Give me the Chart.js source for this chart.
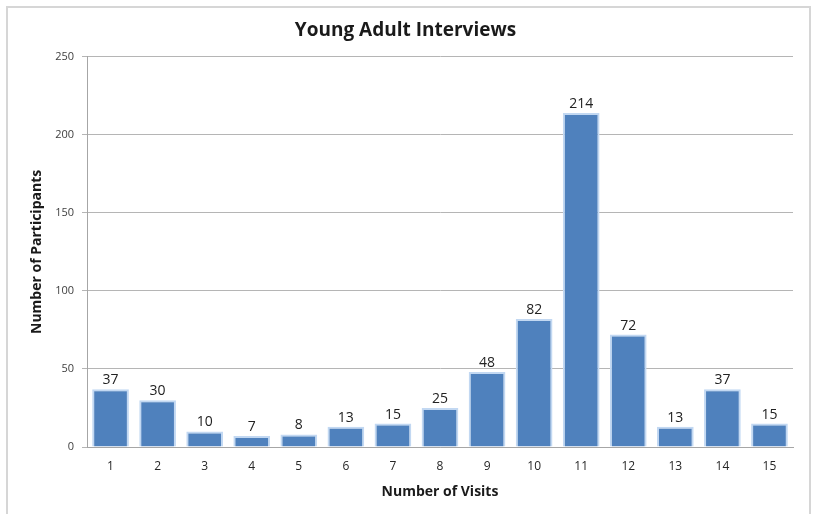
<!DOCTYPE html>
<html>
<head>
<meta charset="utf-8">
<script src="https://cdn.jsdelivr.net/npm/chart.js@4/dist/chart.umd.min.js"></script>
<style>
  html, body { margin: 0; padding: 0; background: #ffffff; }
  #wrap { position: relative; width: 817px; height: 514px; }
</style>
</head>
<body>
<div id="wrap"><canvas id="chart" width="817" height="514"></canvas></div>
<script>
// Number of participants by number of visits
const visits = ['1', '2', '3', '4', '5', '6', '7', '8', '9', '10', '11', '12', '13', '14', '15'];
const participants = [37, 30, 10, 7, 8, 13, 15, 25, 48, 82, 214, 72, 13, 37, 15];
const yTicks = [0, 50, 100, 150, 200, 250];

const FONT = '"Open Sans", "Liberation Sans", sans-serif';

// Light frame around the whole chart
const framePlugin = {
  id: 'frame',
  beforeDraw(chart) {
    const ctx = chart.ctx;
    ctx.save();
    ctx.fillStyle = '#ffffff';
    ctx.fillRect(0, 0, chart.width, chart.height);
    ctx.strokeStyle = '#d6d6d6';
    ctx.lineWidth = 2;
    ctx.strokeRect(7, 7, 803, 530);
    ctx.restore();
  }
};

// Value written above each bar
const valueLabels = {
  id: 'valueLabels',
  afterDatasetsDraw(chart) {
    const ctx = chart.ctx;
    const meta = chart.getDatasetMeta(0);
    const data = chart.data.datasets[0].data;
    ctx.save();
    ctx.font = '14px ' + FONT;
    ctx.fillStyle = '#222222';
    ctx.textAlign = 'center';
    ctx.textBaseline = 'bottom';
    meta.data.forEach((bar, i) => {
      ctx.fillText(String(data[i]), bar.x, bar.y - 2);
    });
    ctx.restore();
  }
};

new Chart(document.getElementById('chart'), {
  type: 'bar',
  data: {
    labels: visits,
    datasets: [{
      data: participants,
      backgroundColor: '#4f81bd',
      borderColor: '#c2d8f2',
      borderWidth: 2,
      borderSkipped: 'bottom',
      barPercentage: 0.78,
      categoryPercentage: 1.0
    }]
  },
  options: {
    responsive: false,
    animation: false,
    devicePixelRatio: 1,
    layout: { padding: { left: 18, right: 24, top: 10, bottom: 10 } },
    plugins: {
      legend: { display: false },
      tooltip: { enabled: false },
      title: {
        display: true,
        text: 'Young Adult Interviews',
        color: '#1a1a1a',
        font: { family: FONT, size: 19, weight: 'bold' },
        padding: { top: 9, bottom: 15 }
      }
    },
    scales: {
      x: {
        grid: { display: false, drawTicks: false },
        border: { display: true, color: '#a6a6a6', width: 1 },
        ticks: {
          color: '#262626',
          font: { family: FONT, size: 12 },
          padding: 12,
          maxRotation: 0
        },
        title: {
          display: true,
          text: 'Number of Visits',
          color: '#1a1a1a',
          font: { family: FONT, size: 14, weight: 'bold' },
          padding: { top: 0, bottom: 4 }
        },
        afterFit(scale) { scale.height = 57; }
      },
      y: {
        min: 0,
        max: 250,
        afterBuildTicks(scale) { scale.ticks = yTicks.map(v => ({ value: v })); },
        grid: { color: '#b5b5b5', lineWidth: 1, tickLength: 5, drawTicks: true },
        border: { display: true, color: '#a6a6a6', width: 1 },
        ticks: {
          color: '#404040',
          font: { family: FONT, size: 11 },
          padding: 8
        },
        title: {
          display: true,
          text: 'Number of Participants',
          color: '#1a1a1a',
          font: { family: FONT, size: 14, weight: 'bold' },
          padding: { top: 11, bottom: 0 }
        },
        afterFit(scale) { scale.width = 69; }
      }
    }
  },
  plugins: [framePlugin, valueLabels]
});
</script>
</body>
</html>
